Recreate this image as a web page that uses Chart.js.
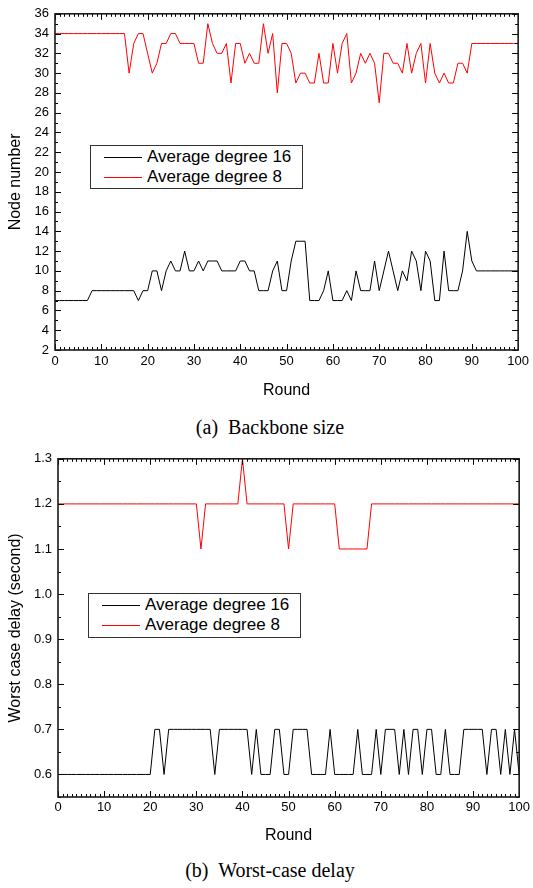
<!DOCTYPE html>
<html>
<head>
<meta charset="utf-8">
<title>Backbone size and worst-case delay</title>
<script src="https://cdn.jsdelivr.net/npm/chart.js@4.4.1/dist/chart.umd.min.js"></script>
<style>
  html, body { margin: 0; padding: 0; background: #fff; }
  body { position: relative; width: 533px; height: 888px; overflow: hidden; font-family: "Liberation Sans", Arial, sans-serif; }
  canvas { position: absolute; left: 0; }
  #backbone { top: 0; }
  #delay { top: 445px; }
  .legend { position: absolute; width: 211px; border: 1px solid #333; background: #fff; }
  .legend .row { position: absolute; left: 0; height: 20px; line-height: 20px; font-size: 17px; color: #000; white-space: nowrap; }
  .legend .swatch { position: absolute; left: 13px; top: 10px; width: 38px; height: 0; border-top: 1px solid; }
  .legend .text { position: absolute; left: 56px; top: 0; }
  .caption { position: absolute; left: 0; width: 540px; text-align: center; font-family: "Liberation Serif", "DejaVu Serif", serif; font-size: 20px; line-height: 22px; color: #000; white-space: pre; }
</style>
</head>
<body>
<canvas id="backbone" width="533" height="400"></canvas>
<canvas id="delay" width="533" height="400"></canvas>
<div class="legend" id="legend-a" style="left:90px; top:145px; height:42px;"></div>
<div class="legend" id="legend-b" style="left:88px; top:593px; height:43px;"></div>
<div class="caption" style="top:416px;">(a)  Backbone size</div>
<div class="caption" style="top:859px;">(b)  Worst-case delay</div>
<script>
const rounds = Array.from({ length: 101 }, (_, i) => i);
const seriesNames = ['Average degree 16', 'Average degree 8'];
const seriesColors = ['#000000', '#ff0000'];

// (a) backbone size, node count per round
const nodesDeg16 = [
  7, 7, 7, 7, 7, 7, 7, 7, 8, 8,
  8, 8, 8, 8, 8, 8, 8, 8, 7, 8,
  8, 10, 10, 8, 10, 11, 10, 10, 12, 10,
  10, 11, 10, 11, 11, 11, 10, 10, 10, 10,
  11, 11, 10, 10, 8, 8, 8, 10, 11, 8,
  8, 11, 13, 13, 13, 7, 7, 7, 8, 10,
  7, 7, 7, 8, 7, 10, 8, 8, 8, 11,
  8, 10, 12, 10, 8, 10, 9, 12, 11, 8,
  12, 11, 7, 7, 12, 8, 8, 8, 10, 14,
  11, 10, 10, 10, 10, 10, 10, 10, 10, 10,
  10
];
const nodesDeg8 = [
  34, 34, 34, 34, 34, 34, 34, 34, 34, 34,
  34, 34, 34, 34, 34, 34, 30, 33, 34, 34,
  32, 30, 31, 33, 33, 34, 34, 33, 33, 33,
  33, 31, 31, 35, 33, 32, 32, 33, 29, 33,
  33, 31, 32, 31, 31, 35, 32, 34, 28, 33,
  33, 32, 29, 30, 30, 29, 29, 32, 29, 29,
  33, 30, 33, 34, 29, 30, 32, 31, 32, 31,
  27, 32, 32, 31, 31, 30, 33, 30, 32, 33,
  29, 33, 30, 29, 30, 29, 29, 31, 31, 30,
  33, 33, 33, 33, 33, 33, 33, 33, 33, 33,
  33
];

// (b) worst-case delay in seconds per round
const delayDeg16 = [
  0.6, 0.6, 0.6, 0.6, 0.6, 0.6, 0.6, 0.6, 0.6, 0.6,
  0.6, 0.6, 0.6, 0.6, 0.6, 0.6, 0.6, 0.6, 0.6, 0.6,
  0.6, 0.7, 0.7, 0.6, 0.7, 0.7, 0.7, 0.7, 0.7, 0.7,
  0.7, 0.7, 0.7, 0.7, 0.6, 0.7, 0.7, 0.7, 0.7, 0.7,
  0.7, 0.7, 0.6, 0.7, 0.6, 0.6, 0.6, 0.7, 0.7, 0.6,
  0.6, 0.7, 0.7, 0.7, 0.7, 0.6, 0.6, 0.6, 0.6, 0.7,
  0.6, 0.6, 0.6, 0.6, 0.6, 0.7, 0.6, 0.6, 0.6, 0.7,
  0.6, 0.7, 0.7, 0.7, 0.6, 0.7, 0.6, 0.7, 0.7, 0.6,
  0.7, 0.7, 0.6, 0.6, 0.7, 0.6, 0.6, 0.6, 0.7, 0.7,
  0.7, 0.7, 0.7, 0.6, 0.7, 0.7, 0.6, 0.7, 0.6, 0.7,
  0.6
];
const delayDeg8 = [
  1.2, 1.2, 1.2, 1.2, 1.2, 1.2, 1.2, 1.2, 1.2, 1.2,
  1.2, 1.2, 1.2, 1.2, 1.2, 1.2, 1.2, 1.2, 1.2, 1.2,
  1.2, 1.2, 1.2, 1.2, 1.2, 1.2, 1.2, 1.2, 1.2, 1.2,
  1.2, 1.1, 1.2, 1.2, 1.2, 1.2, 1.2, 1.2, 1.2, 1.2,
  1.3, 1.2, 1.2, 1.2, 1.2, 1.2, 1.2, 1.2, 1.2, 1.2,
  1.1, 1.2, 1.2, 1.2, 1.2, 1.2, 1.2, 1.2, 1.2, 1.2,
  1.2, 1.1, 1.1, 1.1, 1.1, 1.1, 1.1, 1.1, 1.2, 1.2,
  1.2, 1.2, 1.2, 1.2, 1.2, 1.2, 1.2, 1.2, 1.2, 1.2,
  1.2, 1.2, 1.2, 1.2, 1.2, 1.2, 1.2, 1.2, 1.2, 1.2,
  1.2, 1.2, 1.2, 1.2, 1.2, 1.2, 1.2, 1.2, 1.2, 1.2,
  1.2
];

const roundTicks = [0, 10, 20, 30, 40, 50, 60, 70, 80, 90, 100];
const nodeTicks = [2, 4, 6, 8, 10, 12, 14, 16, 18, 20, 22, 24, 26, 28, 30, 32, 34, 36];
const delayTicks = [0.6, 0.7, 0.8, 0.9, 1.0, 1.1, 1.2, 1.3];

// Origin-style frame: box round the plot, inward ticks on all four sides
const frameTicks = {
  id: 'frameTicks',
  afterDatasetsDraw(chart, args, opts) {
    const { ctx, chartArea: a, scales } = chart;
    const xs = scales.x, ys = scales.y;
    const isMajor = (list, v) => list.some(m => Math.abs(m - v) < 1e-6);
    const line = (x1, y1, x2, y2) => {
      ctx.beginPath();
      ctx.moveTo(x1, y1);
      ctx.lineTo(x2, y2);
      ctx.stroke();
    };
    ctx.save();
    ctx.strokeStyle = '#000';
    ctx.lineWidth = 1;
    for (let i = 0; xs.min + i * opts.xMinor <= xs.max + 1e-9; i++) {
      const v = xs.min + i * opts.xMinor;
      const px = Math.round(xs.getPixelForValue(v)) + 0.5;
      const len = isMajor(opts.xMajor, v) ? 6 : 3;
      line(px, a.bottom, px, a.bottom - len);
      line(px, a.top, px, a.top + len);
    }
    for (let i = 0; ys.min + i * opts.yMinor <= ys.max + 1e-9; i++) {
      const v = ys.min + i * opts.yMinor;
      const py = Math.round(ys.getPixelForValue(v)) + 0.5;
      const len = isMajor(opts.yMajor, v) ? 6 : 3;
      line(a.left, py, a.left + len, py);
      line(a.right, py, a.right - len, py);
    }
    ctx.lineWidth = 1.6;
    ctx.strokeStyle = '#1a1a1a';
    ctx.strokeRect(a.left, a.top, a.right - a.left, a.bottom - a.top);
    ctx.restore();
  }
};

function drawPanel(canvasId, cfg) {
  const tickFont = { family: '"Liberation Sans", Arial, sans-serif', size: 13 };
  const titleFont = { family: '"Liberation Sans", Arial, sans-serif', size: 16 };
  return new Chart(document.getElementById(canvasId), {
    type: 'line',
    data: {
      labels: rounds,
      datasets: [
        { label: seriesNames[0], data: cfg.deg16, borderColor: seriesColors[0], borderWidth: 1, pointRadius: 0, tension: 0, fill: false },
        { label: seriesNames[1], data: cfg.deg8, borderColor: seriesColors[1], borderWidth: 1, pointRadius: 0, tension: 0, fill: false }
      ]
    },
    options: {
      responsive: false,
      animation: false,
      layout: { padding: cfg.padding },
      plugins: {
        legend: { display: false },
        tooltip: { enabled: false },
        frameTicks: { xMajor: roundTicks, xMinor: 1, yMajor: cfg.yTicks, yMinor: cfg.yMinor }
      },
      scales: {
        x: {
          type: 'linear',
          min: 0,
          max: 100,
          grid: { display: false, drawTicks: false },
          border: { display: false },
          afterBuildTicks: s => { s.ticks = roundTicks.map(v => ({ value: v })); },
          afterFit: s => { s.height = cfg.xHeight; },
          ticks: { padding: cfg.xTickPad, autoSkip: false, maxRotation: 0, color: '#000', font: tickFont },
          title: { display: true, text: 'Round', color: '#000', font: titleFont, padding: { top: 0, bottom: cfg.roundPad } }
        },
        y: {
          min: cfg.yMin,
          max: cfg.yMax,
          grid: { display: false, drawTicks: false },
          border: { display: false },
          afterBuildTicks: s => { s.ticks = cfg.yTicks.map(v => ({ value: v })); },
          afterFit: s => { s.width = cfg.yWidth; },
          ticks: { padding: 6, autoSkip: false, color: '#000', font: tickFont, callback: cfg.yFormat },
          title: { display: true, text: cfg.yTitle, color: '#000', font: titleFont, padding: { top: 6, bottom: 0 } }
        }
      }
    },
    plugins: [frameTicks]
  });
}

function buildLegend(id) {
  const box = document.getElementById(id);
  const rowTops = [1, 21];
  seriesNames.forEach((name, i) => {
    const row = document.createElement('div');
    row.className = 'row';
    row.style.top = rowTops[i] + 'px';
    row.innerHTML = '<span class="swatch" style="border-color:' + seriesColors[i] + '"></span><span class="text">' + name + '</span>';
    box.appendChild(row);
  });
}

drawPanel('backbone', {
  deg16: nodesDeg16,
  deg8: nodesDeg8,
  yMin: 2,
  yMax: 36,
  yTicks: nodeTicks,
  yMinor: 1,
  yTitle: 'Node number',
  yFormat: v => String(v),
  yWidth: 55,
  xHeight: 50,
  xTickPad: 4,
  roundPad: 0,
  padding: { left: 0, right: 14, top: 8, bottom: 0 }
});

drawPanel('delay', {
  deg16: delayDeg16,
  deg8: delayDeg8,
  yMin: 0.55,
  yMax: 1.3,
  yTicks: delayTicks,
  yMinor: 0.05,
  yTitle: 'Worst case delay (second)',
  yFormat: v => Number(v).toFixed(1),
  yWidth: 58,
  xHeight: 48,
  xTickPad: 3,
  roundPad: 0,
  padding: { left: 0, right: 13, top: 12, bottom: 0 }
});

buildLegend('legend-a');
buildLegend('legend-b');
</script>
</body>
</html>
